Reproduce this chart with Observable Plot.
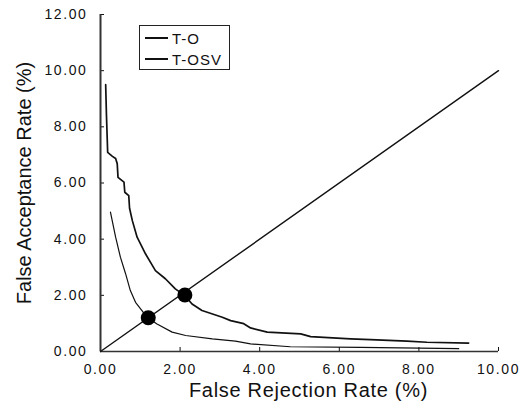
<!DOCTYPE html>
<html>
<head>
<meta charset="utf-8">
<script src="https://cdn.jsdelivr.net/npm/d3@7"></script>
<script src="https://cdn.jsdelivr.net/npm/@observablehq/plot@0.6"></script>
<style>
  html, body { margin: 0; padding: 0; background: #fff; }
  #wrap { position: relative; width: 526px; height: 408px; font-family: "Liberation Sans", Arial, sans-serif; }
  #legend { position: absolute; left: 139px; top: 25px; width: 89px; height: 43px; border: 1px solid #222; background: #fff; font-size: 15px; letter-spacing: 1px; color: #111; }
  .row { position: absolute; left: 5px; height: 16px; display: flex; align-items: center; }
  .sw { width: 23px; margin-right: 4px; background: #111; }
</style>
</head>
<body>
<div id="wrap"></div>
<script>
// T-O curve (False Rejection %, False Acceptance %)
const toFR = [0.13, 0.15, 0.18, 0.30, 0.38, 0.42, 0.44, 0.59, 0.61, 0.71, 0.73, 0.80, 0.92, 1.13, 1.38, 1.63, 1.88, 2.12, 2.30, 2.55, 3.06, 3.27, 3.60, 3.77, 4.19, 5.03, 5.28, 6.28, 6.78, 7.70, 8.20, 9.25];
const toFA = [9.50, 8.40, 7.09, 6.95, 6.87, 6.69, 6.20, 6.03, 5.67, 5.55, 5.10, 4.66, 4.07, 3.48, 2.88, 2.59, 2.23, 1.99, 1.69, 1.46, 1.22, 1.10, 0.99, 0.84, 0.69, 0.63, 0.53, 0.45, 0.42, 0.37, 0.33, 0.30];
// T-OSV curve
const osvFR = [0.25, 0.38, 0.50, 0.63, 0.75, 0.88, 1.17, 1.42, 1.80, 2.14, 2.81, 3.39, 3.77, 4.77, 6.53, 9.00];
const osvFA = [4.96, 4.07, 3.36, 2.77, 2.17, 1.75, 1.22, 0.98, 0.69, 0.57, 0.45, 0.37, 0.27, 0.17, 0.15, 0.10];
// Equal-error diagonal and EER points
const diagX = [0, 10];
const diagY = [0, 10];
const eerLabels = ["T-O", "T-OSV"];
const eerFR = [2.12, 1.20];
const eerFA = [2.01, 1.20];
// Axes
const xTicks = [0, 2, 4, 6, 8, 10];
const yTicks = [0, 2, 4, 6, 8, 10, 12];
const xTitle = "False Rejection Rate (%)";
const yTitle = "False Acceptance Rate (%)";
const seriesNames = ["T-O", "T-OSV"];

const toData = toFR.map((x, i) => ({x, y: toFA[i]}));
const osvData = osvFR.map((x, i) => ({x, y: osvFA[i]}));
const diag = diagX.map((x, i) => ({x, y: diagY[i]}));
const eer = eerFR.map((x, i) => ({name: eerLabels[i], x, y: eerFA[i]}));
const fmt = d3.format(".2f");
const tickStrings = new Set([...xTicks, ...yTicks].map(fmt));

const chart = Plot.plot({
  width: 526,
  height: 408,
  marginLeft: 100,
  marginRight: 28,
  marginTop: 14,
  marginBottom: 57,
  style: {fontFamily: "'Liberation Sans', Arial, sans-serif", background: "#fff", color: "#111"},
  x: {domain: [0, 10]},
  y: {domain: [0, 12]},
  marks: [
    Plot.axisX({ticks: xTicks, tickFormat: fmt, tickSize: -4, tickPadding: 17, label: null, fontSize: 14}),
    Plot.axisY({ticks: yTicks, tickFormat: fmt, tickSize: -4, tickPadding: 17, label: null, fontSize: 14}),
    Plot.ruleX([0], {stroke: "#333", strokeWidth: 2}),
    Plot.ruleY([0], {stroke: "#333", strokeWidth: 1.3}),
    Plot.line(diag, {x: "x", y: "y", stroke: "#111", strokeWidth: 1.4}),
    Plot.line(osvData, {x: "x", y: "y", stroke: "#111", strokeWidth: 1.2}),
    Plot.line(toData, {x: "x", y: "y", stroke: "#111", strokeWidth: 1.7}),
    Plot.dot(eer, {x: "x", y: "y", r: 7.5, fill: "#000", stroke: "none"}),
    Plot.text([xTitle], {text: d => d, frameAnchor: "bottom", dy: 45, dx: 9, fontSize: 20, fill: "#111"}),
    Plot.text([yTitle], {text: d => d, frameAnchor: "left", textAnchor: "middle", dx: -76, dy: 0, rotate: -90, fontSize: 20, fill: "#111"})
  ]
});

// style tick labels (wider, letter-spaced like the reference)
d3.select(chart).selectAll("text").each(function () {
  const s = this.textContent;
  if (tickStrings.has(s)) {
    this.setAttribute("font-size", "14");
    this.style.fontSize = "14px";
    this.style.letterSpacing = "1.6px";
  } else if (s === xTitle) {
    this.style.letterSpacing = "0.7px";
  }
});

const wrap = document.getElementById("wrap");
wrap.appendChild(chart);
const legend = document.createElement("div");
legend.id = "legend";
const widths = [2.2, 1.2];
seriesNames.forEach((name, i) => {
  const row = document.createElement("div");
  row.className = "row";
  row.style.top = (i === 0 ? 4 : 25) + "px";
  const sw = document.createElement("span");
  sw.className = "sw";
  sw.style.height = widths[i] + "px";
  const t = document.createElement("span");
  t.textContent = name;
  row.appendChild(sw);
  row.appendChild(t);
  legend.appendChild(row);
});
wrap.appendChild(legend);
</script>
</body>
</html>
